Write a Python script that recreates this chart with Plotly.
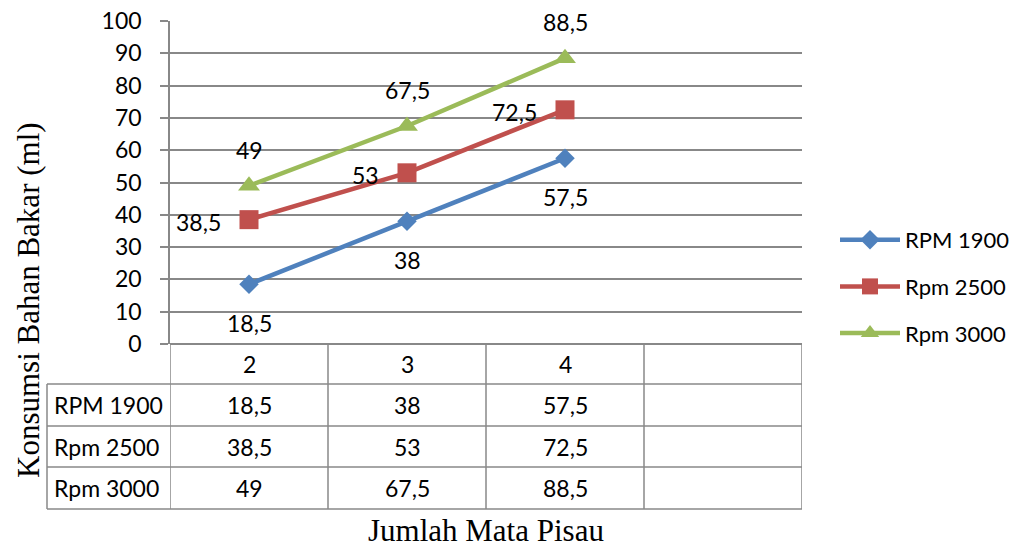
import plotly.graph_objects as go

# Jumlah mata pisau (number of blades) and fuel consumption per engine speed
categories = ["2", "3", "4", ""]
rpm1900 = [18.5, 38, 57.5]
rpm2500 = [38.5, 53, 72.5]
rpm3000 = [49, 67.5, 88.5]
series_names = ["RPM 1900", "Rpm 2500", "Rpm 3000"]
series_values = [rpm1900, rpm2500, rpm3000]
y_ticks = list(range(0, 101, 10))

# Styling
colors = ["#4F81BD", "#C0504D", "#9BBB59"]
symbols = ["diamond", "square", "triangle-up"]
marker_sizes = [15, 19, 19]
grid_color = "#888888"
tick_font = dict(family="Lato", size=23, color="#000000")
legend_font = dict(family="Lato", size=22, color="#000000")
title_font = dict(family="Liberation Serif", size=31, color="#000000")

W, H = 1016, 547
L, R, T, B = 170, 802, 21, 344  # plot area in pixels
PW, PH = R - L, B - T


def px_x(x):
    return (x - L) / PW


def px_y(y):
    return (B - y) / PH


def fmt(v):
    s = f"{v:g}"
    return s.replace(".", ",")


fig = go.Figure()
idx = list(range(len(rpm1900)))
for name, vals, col, sym, ms in zip(series_names, series_values, colors, symbols, marker_sizes):
    fig.add_trace(go.Scatter(
        x=idx, y=vals, name=name, mode="lines+markers",
        line=dict(color=col, width=4.5),
        marker=dict(symbol=sym, size=ms, color=col),
        legendgroup=name,
    ))

# Point value labels: below / left / above, as in an Excel chart
annotations = []
label_offsets = [
    dict(xanchor="center", yanchor="middle", xshift=0, yshift=-39),
    dict(xanchor="right", yanchor="middle", xshift=-26, yshift=-2),
    dict(xanchor="center", yanchor="middle", xshift=0, yshift=36),
]
for vals, off in zip(series_values, label_offsets):
    for i, v in enumerate(vals):
        annotations.append(dict(x=i, y=v, xref="x", yref="y", text=fmt(v),
                                showarrow=False, font=tick_font, **off))

# Data table under the plot
row_edges = [344, 384, 426, 467, 509]
tbl_left = 47
shapes = []
line_style = dict(color=grid_color, width=1.5)
n_cols = len(categories)
for k in range(n_cols + 1):
    shapes.append(dict(type="line", xref="x", yref="paper",
                       x0=k - 0.5, x1=k - 0.5, y0=px_y(row_edges[0]), y1=px_y(row_edges[-1]),
                       line=line_style))
shapes.append(dict(type="line", xref="paper", yref="paper",
                   x0=px_x(tbl_left), x1=px_x(tbl_left), y0=px_y(row_edges[1]), y1=px_y(row_edges[-1]),
                   line=line_style))
for yy in row_edges[1:]:
    shapes.append(dict(type="line", xref="paper", yref="paper",
                       x0=px_x(tbl_left), x1=px_x(R), y0=px_y(yy), y1=px_y(yy),
                       line=line_style))

# Header row: category labels
hy = (row_edges[0] + row_edges[1]) / 2
for k, c in enumerate(categories):
    if c:
        annotations.append(dict(x=k, y=px_y(hy), xref="x", yref="paper", text=c,
                                showarrow=False, font=tick_font, xanchor="center", yanchor="middle"))
# Series rows
for r, (name, vals) in enumerate(zip(series_names, series_values)):
    cy = (row_edges[r + 1] + row_edges[r + 2]) / 2
    annotations.append(dict(x=px_x(tbl_left + 5), y=px_y(cy), xref="paper", yref="paper",
                            text=name, showarrow=False, font=tick_font,
                            xanchor="left", yanchor="middle"))
    for k, v in enumerate(vals):
        annotations.append(dict(x=k, y=px_y(cy), xref="x", yref="paper", text=fmt(v),
                                showarrow=False, font=tick_font, xanchor="center", yanchor="middle"))

# Axis titles
annotations.append(dict(x=px_x(486), y=px_y(530), xref="paper", yref="paper",
                        text="Jumlah Mata Pisau", showarrow=False, font=title_font,
                        xanchor="center", yanchor="middle"))
annotations.append(dict(x=px_x(28), y=px_y(300), xref="paper", yref="paper",
                        text="Konsumsi Bahan Bakar (ml)", showarrow=False, font=title_font,
                        textangle=-90, xanchor="center", yanchor="middle"))

fig.update_layout(
    width=W, height=H,
    margin=dict(l=L, r=W - R, t=T, b=H - B, pad=0, autoexpand=False),
    paper_bgcolor="white", plot_bgcolor="white",
    showlegend=True,
    legend=dict(x=px_x(835), y=px_y(219), xanchor="left", yanchor="top",
                font=legend_font, itemwidth=60, tracegroupgap=15,
                bgcolor="rgba(0,0,0,0)"),
    xaxis=dict(range=[-0.5, n_cols - 0.5], showticklabels=False, showgrid=False,
               zeroline=False, showline=False, ticks="", fixedrange=True),
    yaxis=dict(range=[0, 100], tickvals=y_ticks, showgrid=True, gridcolor=grid_color,
               gridwidth=1.5, zeroline=True, zerolinecolor=grid_color, zerolinewidth=1.5,
               showline=True, linecolor=grid_color, linewidth=1.5,
               ticks="outside", ticklen=8, tickcolor=grid_color, tickwidth=1.5,
               ticklabelstandoff=14, tickfont=tick_font),
    shapes=shapes,
    annotations=annotations,
)

fig.write_html("out.html")
